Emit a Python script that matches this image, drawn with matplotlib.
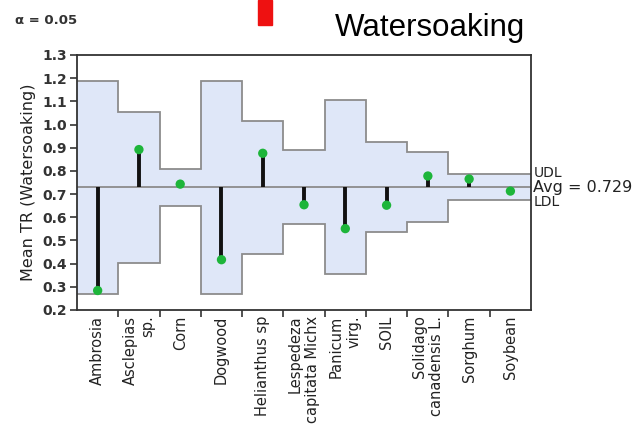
import numpy as np
import matplotlib.pyplot as plt
from matplotlib.patches import Rectangle
from matplotlib.transforms import blended_transform_factory

# Analysis of means for watersoaking, one group per plant
groups = ['Ambrosia', 'Asclepias\nsp.', 'Corn', 'Dogwood', 'Helianthus sp',
          'Lespedeza\ncapitata Michx', 'Panicum\nvirg.', 'SOIL',
          'Solidago\ncanadensis L.', 'Sorghum', 'Soybean']
means = [0.284, 0.892, 0.743, 0.417, 0.876, 0.654, 0.551, 0.652, 0.778, 0.765, 0.713]
udl = [1.189, 1.055, 0.808, 1.189, 1.017, 0.889, 1.104, 0.923, 0.880, 0.785, 0.785]
ldl = [0.269, 0.403, 0.650, 0.269, 0.441, 0.569, 0.354, 0.535, 0.578, 0.673, 0.673]
avg = 0.729

fig = plt.figure(figsize=(6.44, 4.29), dpi=100)
ax = fig.add_axes([0.1196, 0.2774, 0.705, 0.5944])

x = np.arange(len(groups))
edges = np.arange(len(groups) + 1) - 0.5

# decision limits as shaded steps
ax.stairs(udl, edges, baseline=ldl, fill=True, color='#dfe7f8', zorder=1)
ax.stairs(udl, edges, baseline=None, color='#8c8c8c', lw=1.3, zorder=2)
ax.stairs(ldl, edges, baseline=None, color='#8c8c8c', lw=1.3, zorder=2)
ax.axhline(avg, color='#8c8c8c', lw=1.3, zorder=2)

ax.vlines(x, avg, means, color='#111111', lw=2.8, zorder=3)
ax.scatter(x, means, s=45, color='#1db53a', zorder=4, edgecolors='none')

ax.set_xlim(-0.5, len(groups) - 0.5)
ax.set_ylim(0.2, 1.3)
ax.set_yticks(np.arange(0.2, 1.31, 0.1))
ax.set_yticklabels([f'{v:.1f}' for v in np.arange(0.2, 1.31, 0.1)],
                   fontsize=10, fontweight='bold', color='#333333')
ax.set_ylabel('Mean TR (Watersoaking)', fontsize=11.5, color='#222222', labelpad=5)

ax.set_xticks(x)
ax.set_xticklabels(groups, rotation=90, fontsize=10.5, color='#222222',
                   ha='center', va='top', multialignment='right')
ax.tick_params(axis='x', which='major', length=0, pad=4)
ax.set_xticks(edges[1:-1], minor=True)
ax.tick_params(axis='x', which='minor', length=5, width=1.2, color='#333333')
ax.tick_params(axis='y', length=5, width=1.2, color='#333333', pad=2)

for s in ax.spines.values():
    s.set_color('#333333')
    s.set_linewidth(1.3)

# limit labels at the right end
tr = blended_transform_factory(ax.transAxes, ax.transData)
ax.text(1.005, udl[-1] + 0.005, 'UDL', transform=tr, fontsize=10, va='center', ha='left', color='#222222')
ax.text(1.005, avg, f'Avg = {avg}', transform=tr, fontsize=11.5, va='center', ha='left', color='#222222')
ax.text(1.005, ldl[-1] - 0.005, 'LDL', transform=tr, fontsize=10, va='center', ha='left', color='#222222')

fig.text(0.023, 0.953, 'α = 0.05', fontsize=9.5, fontweight='bold', color='#333333', va='center')
fig.text(0.52, 0.935, 'Watersoaking', fontsize=22.5, family='Liberation Sans', va='center', ha='left')
fig.patches.append(Rectangle((0.401, 0.942), 0.021, 0.058, transform=fig.transFigure,
                             color='#ee1111', figure=fig))

fig.savefig('out.png', dpi=100)
